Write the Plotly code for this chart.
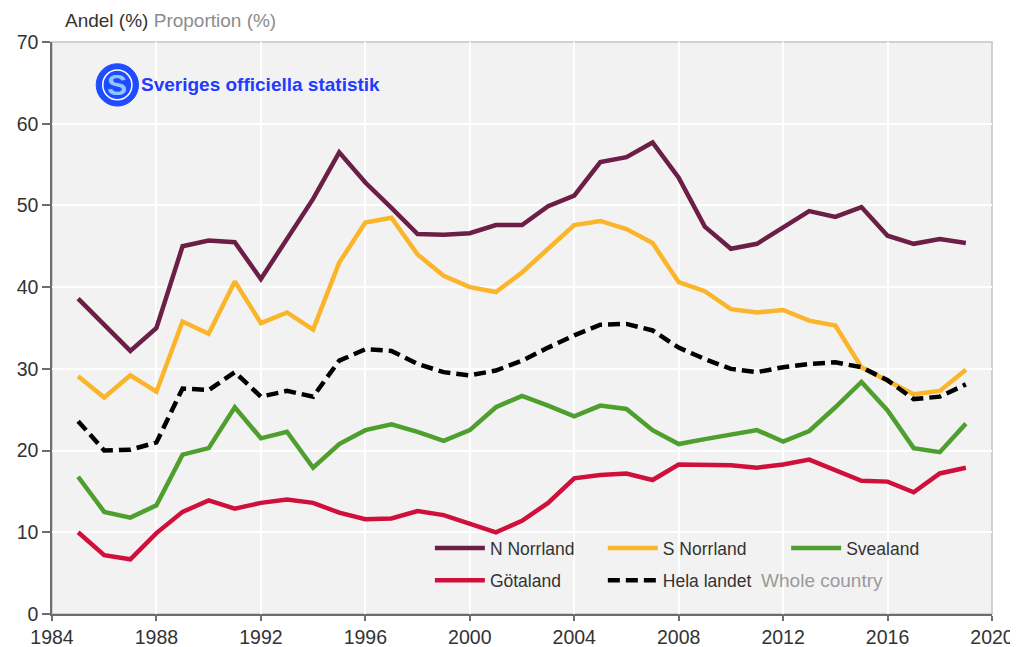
import plotly.graph_objects as go

years = list(range(1985, 2020))

n_norrland = [38.6, 35.4, 32.2, 35.0, 45.0, 45.7, 45.5, 41.0, 46.0, 50.8, 56.5, 52.8, 49.7, 46.5, 46.4, 46.6, 47.6, 47.6,
              49.9, 51.2, 55.3, 55.9, 57.7, 53.4, 47.4, 44.7, 45.3, 47.3, 49.3, 48.6, 49.8, 46.3, 45.3, 45.9, 45.4]
s_norrland = [29.1, 26.5, 29.2, 27.2, 35.8, 34.3, 40.7, 35.6, 36.9, 34.8, 43.0, 47.9, 48.5, 44.0, 41.4, 40.0, 39.4, 41.8,
              44.7, 47.6, 48.1, 47.1, 45.4, 40.6, 39.5, 37.3, 36.9, 37.2, 35.9, 35.3, 30.2, 28.6, 26.9, 27.3, 29.9]
svealand = [16.8, 12.5, 11.8, 13.3, 19.5, 20.3, 25.3, 21.5, 22.3, 17.9, 20.8, 22.5, 23.2, 22.3, 21.2, 22.5, 25.3, 26.7,
            25.5, 24.2, 25.5, 25.1, 22.5, 20.8, 21.4, 22.0, 22.5, 21.1, 22.4, 25.3, 28.4, 24.9, 20.3, 19.8, 23.3]
gotaland = [10.0, 7.2, 6.7, 9.9, 12.5, 13.9, 12.9, 13.6, 14.0, 13.6, 12.4, 11.6, 11.7, 12.6, 12.1, 11.1, 10.0, 11.4,
            13.6, 16.6, 17.0, 17.2, 16.4, 18.3, 18.3, 18.2, 17.9, 18.3, 18.9, 17.6, 16.3, 16.2, 14.9, 17.2, 17.9]
hela_landet = [23.6, 20.0, 20.1, 21.0, 27.6, 27.4, 29.6, 26.6, 27.3, 26.6, 31.0, 32.4, 32.2, 30.6, 29.6, 29.2, 29.8, 31.0,
               32.6, 34.1, 35.4, 35.5, 34.7, 32.6, 31.2, 30.0, 29.6, 30.2, 30.6, 30.8, 30.2, 28.6, 26.3, 26.6, 28.1]

x_ticks = list(range(1984, 2021, 4))
y_ticks = list(range(0, 71, 10))

# name, values, colour, dash, legend slot (x in paper, y in paper)
series = [
    ("N Norrland", n_norrland, "#6b1f47", "solid", 0.402, 0.115),
    ("S Norrland", s_norrland, "#fbb52b", "solid", 0.586, 0.115),
    ("Svealand", svealand, "#4f9f2f", "solid", 0.781, 0.115),
    ("Götaland", gotaland, "#d0103c", "solid", 0.402, 0.059),
    ("Hela landet&nbsp;&nbsp;<span style='color:#9a9a9a;font-size:19px'>Whole country</span>", hela_landet,
     "#000000", "12px,6px", 0.586, 0.059),
]

fig = go.Figure()
legends = {}
for i, (name, values, color, dash, lx, ly) in enumerate(series):
    key = "legend" if i == 0 else f"legend{i + 1}"
    fig.add_trace(go.Scatter(x=years, y=values, name=name, mode="lines", legend=key,
                             line={"color": color, "width": 4.5, "dash": dash}))
    legends[key] = {"x": lx, "y": ly, "xanchor": "left", "yanchor": "middle", "bgcolor": "rgba(0,0,0,0)",
                    "itemwidth": 50, "font": {"size": 17.5, "color": "#333333"}, "borderwidth": 0}

font_family = "Liberation Sans, Arial, sans-serif"
axis_style = dict(showgrid=True, gridcolor="#ffffff", gridwidth=2, showline=True, linecolor="#6e6e6e",
                  linewidth=1.5, ticks="outside", tickcolor="#6e6e6e", tickwidth=1.5, zeroline=False,
                  fixedrange=True, automargin=False, tickfont={"size": 19.5, "color": "#333333"})
# the page body keeps an 8px margin, so the figure is drawn 8px smaller and the margins shifted
fig.update_layout(
    width=1010, height=639,
    margin={"l": 44, "r": 26, "t": 34, "b": 33},
    paper_bgcolor="#ffffff", plot_bgcolor="#f2f2f2",
    font={"family": font_family, "size": 18, "color": "#333333"},
    showlegend=True,
    shapes=[{"type": "rect", "xref": "paper", "yref": "paper", "x0": 0, "x1": 1, "y0": 0, "y1": 1,
             "line": {"color": "#c4c4c4", "width": 1.5}, "layer": "below"},
            {"type": "circle", "xref": "paper", "yref": "paper", "x0": 0.047, "x1": 0.092, "y0": 0.888, "y1": 0.962,
             "fillcolor": "#1f4cff", "line": {"color": "#1f4cff", "width": 1}},
            {"type": "circle", "xref": "paper", "yref": "paper", "x0": 0.054, "x1": 0.085, "y0": 0.899, "y1": 0.951,
             "fillcolor": "#1f4cff", "line": {"color": "#ffffff", "width": 1.5}}],
    annotations=[
        {"text": "Andel (%) <span style='color:#8c8c8c'>Proportion (%)</span>", "xref": "paper", "yref": "paper",
         "x": 0.012, "y": 1.0, "yshift": 9, "xanchor": "left", "yanchor": "bottom", "showarrow": False,
         "font": {"size": 19, "color": "#333333"}},
        {"text": "<b>S</b>", "xref": "paper", "yref": "paper", "x": 0.0695, "y": 0.925, "xanchor": "center",
         "yanchor": "middle", "showarrow": False, "font": {"size": 30, "color": "#8fc6ff", "family": font_family}},
        {"text": "<b>Sveriges officiella statistik</b>", "xref": "paper", "yref": "paper", "x": 0.093, "y": 0.925,
         "xanchor": "left", "yanchor": "middle", "showarrow": False,
         "font": {"size": 19, "color": "#1f3cff", "family": "Liberation Sans Narrow, Arial Narrow, sans-serif"}},
    ],
    **legends,
)
fig.update_xaxes(range=[1984, 2020], tickvals=x_ticks, ticklen=5, **axis_style)
fig.update_yaxes(range=[0, 70], tickvals=y_ticks, ticklen=8, **axis_style)

fig.write_html("out.html")
